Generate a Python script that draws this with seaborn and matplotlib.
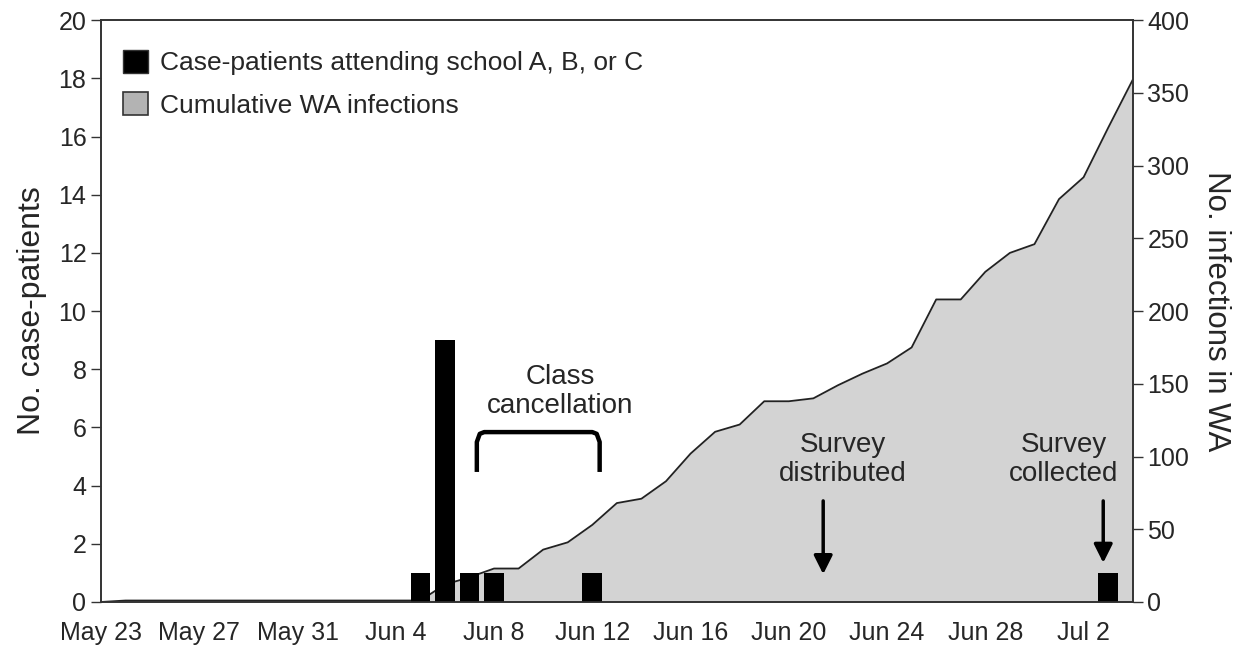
import numpy as np
import pandas as pd
import seaborn as sns
from matplotlib import pyplot as plt
from matplotlib.patches import Patch

# dias de 23 maio ate 4 julho (43 dias)
dias = pd.date_range('2009-05-23', '2009-07-04')
dia_idx = np.arange(len(dias))

# casos por dia (escolas A, B, C)
casos = [0] * len(dias)
dias_casos = ['2009-06-05', '2009-06-06', '2009-06-07', '2009-06-08', '2009-06-12', '2009-07-03']
valores_casos = [1, 9, 1, 1, 1, 1]
for d, v in zip(dias_casos, valores_casos):
    casos[list(dias).index(pd.Timestamp(d))] = v

# infeccoes acumuladas em WA
acumulado = [0, 1, 1, 1, 1, 1, 1, 1, 1, 1, 1, 1, 1, 1, 12, 17, 23, 23, 36, 41,
             53, 68, 71, 83, 102, 117, 122, 138, 138, 140, 149, 157, 164, 175,
             208, 208, 227, 240, 246, 277, 292, 326, 359]

rotulos_x = ['May 23', 'May 27', 'May 31', 'Jun 4', 'Jun 8', 'Jun 12',
             'Jun 16', 'Jun 20', 'Jun 24', 'Jun 28', 'Jul 2']

df = pd.DataFrame({'dia': dia_idx, 'casos': casos, 'acumulado': acumulado})

sns.set_style('white')
plt.rcParams['font.family'] = ['Liberation Sans', 'DejaVu Sans']

fig, ax = plt.subplots(figsize=(12.53, 6.51), dpi=100)
fig.subplots_adjust(left=0.0806, right=0.904, bottom=0.0753, top=0.969)
ax2 = ax.twinx()

# area acumulada no eixo da direita (fica atras)
ax2.fill_between(df['dia'], df['acumulado'], color='#d3d3d3', lw=0)
sns.lineplot(data=df, x='dia', y='acumulado', ax=ax2, color='#222222', lw=1.3)

# barras no eixo da esquerda (fica na frente)
sns.barplot(data=df, x='dia', y='casos', ax=ax, native_scale=True,
            color='black', width=0.8, linewidth=0, saturation=1)
ax.set_zorder(ax2.get_zorder() + 1)
ax.patch.set_visible(False)

ax.set_xlim(0, 42)
ax.set_ylim(0, 20)
ax2.set_ylim(0, 400)
ax.set_yticks(range(0, 21, 2))
ax2.set_yticks(range(0, 401, 50))
ax.set_xticks(range(0, 41, 4))
ax.set_xticklabels(rotulos_x)

ax.set_xlabel('')
ax.set_ylabel('No. case-patients', fontsize=23, labelpad=8)
ax2.set_ylabel('No. infections in WA', fontsize=22.5, rotation=270, labelpad=30)

for a in (ax, ax2):
    a.tick_params(axis='y', labelsize=18, length=7, width=1, color='#333333', direction='out')
    for s in a.spines.values():
        s.set_color('#333333')
        s.set_linewidth(1.2)
ax.tick_params(axis='x', labelsize=18, length=0, pad=14)
ax.tick_params(axis='y', left=True)
ax2.tick_params(axis='y', right=True)

# legenda
handles = [Patch(facecolor='black', edgecolor='#333333'),
           Patch(facecolor='#b3b3b3', edgecolor='#333333', lw=1.2)]
ax.legend(handles, ['Case-patients attending school A, B, or C', 'Cumulative WA infections'],
          loc='upper left', bbox_to_anchor=(-0.002, 0.99), frameon=False, fontsize=19,
          handlelength=0.95, handleheight=0.95, handletextpad=0.45, labelspacing=0.65)

# anotacoes
ax.text(18.7, 7.25, 'Class\ncancellation', ha='center', va='center', fontsize=20, linespacing=1.15)
ax.plot([15.3, 15.3, 15.42, 15.6, 20.0, 20.18, 20.3, 20.3],
        [4.47, 5.5, 5.78, 5.84, 5.84, 5.78, 5.5, 4.47], color='black', lw=3.2,
        solid_capstyle='butt')

ax.text(30.2, 4.9, 'Survey\ndistributed', ha='center', va='center', fontsize=20, linespacing=1.15)
ax.annotate('', xy=(29.4, 0.86), xytext=(29.4, 3.57),
            arrowprops=dict(arrowstyle='-|>', lw=2.5, color='black', mutation_scale=28))
ax.text(39.2, 4.9, 'Survey\ncollected', ha='center', va='center', fontsize=20, linespacing=1.15)
ax.annotate('', xy=(40.8, 1.25), xytext=(40.8, 3.57),
            arrowprops=dict(arrowstyle='-|>', lw=2.5, color='black', mutation_scale=28))

plt.savefig('out.png', dpi=100)
